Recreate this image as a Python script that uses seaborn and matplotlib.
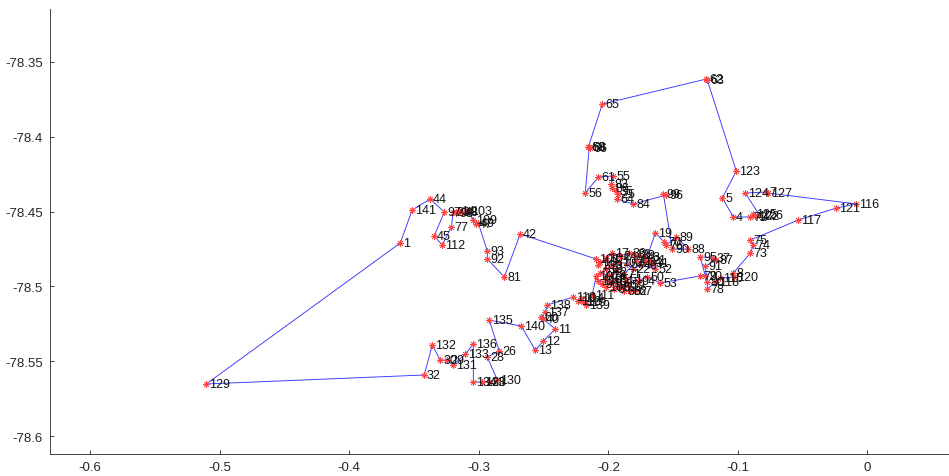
import matplotlib
matplotlib.use("Agg")
import matplotlib.pyplot as plt
import seaborn as sns
import pandas as pd

# Tour order: node id, x and y of each stop
labels = [
    129, 1, 141, 44, 97, 45, 112, 77, 23, 98, 14, 48, 103, 109, 47, 49, 93, 92, 81, 42,
    101, 10, 100, 104, 17, 24, 36, 38, 39, 43, 21, 31, 52, 46, 22, 57, 102, 3, 16, 27,
    18, 2, 71, 41, 34,
    19, 70, 76, 89, 88, 90, 99, 96, 84, 64, 25, 35, 86, 83, 55, 61, 56, 58, 66, 68,
    65, 62, 63, 123, 5, 4, 72, 122, 125, 126, 124, 7, 127, 116, 121, 117, 75, 74, 73,
    8, 120, 115, 118, 78, 80, 91, 87, 37, 95, 20, 79, 53, 50,
    94, 51, 59, 67, 82, 85, 69, 6, 54, 15, 108, 9, 105, 106, 107, 111,
    139, 119, 114, 113, 110, 138, 137, 60, 40, 11, 12, 13, 140, 135, 26, 28, 130, 33,
    128, 134, 136, 133, 131, 29, 30, 132, 32,
]

x_vals = [
    -0.5104, -0.3606, -0.3514, -0.3375, -0.3266, -0.3344, -0.3282, -0.3212, -0.3197, -0.3174,
    -0.3158, -0.3127, -0.3081, -0.3042, -0.3019, -0.3004, -0.2934, -0.2934, -0.2803, -0.2680,
    -0.2093, -0.2062, -0.2077, -0.2015, -0.1969, -0.1907, -0.1838, -0.1799, -0.1761, -0.1722,
    -0.1683, -0.1660, -0.1637, -0.1745, -0.1807, -0.1853, -0.1915, -0.1969, -0.2015, -0.2062,
    -0.1992, -0.1938, -0.1876, -0.1784, -0.1714,
    -0.1637, -0.1568, -0.1552, -0.1475, -0.1382, -0.1506, -0.1575, -0.1552, -0.1807, -0.1931,
    -0.1923, -0.1938, -0.1969, -0.1977, -0.1961, -0.2077, -0.2178, -0.2147, -0.2139, -0.2154,
    -0.2046, -0.1243, -0.1236, -0.1012, -0.1120, -0.1035, -0.0903, -0.0865, -0.0880, -0.0834,
    -0.0942, -0.0780, -0.0764, -0.0085, -0.0239, -0.0533, -0.0903, -0.0880, -0.0903,
    -0.1035, -0.1027, -0.1135, -0.1166, -0.1236, -0.1236, -0.1251, -0.1166, -0.1189, -0.1290,
    -0.1251, -0.1290, -0.1598, -0.1699,
    -0.1768, -0.1861, -0.1846, -0.1792, -0.1830, -0.1876, -0.1907, -0.1954, -0.1938, -0.1985,
    -0.2015, -0.2046, -0.2023, -0.2077, -0.2093, -0.2124,
    -0.2170, -0.2193, -0.2208, -0.2232, -0.2270, -0.2471, -0.2486, -0.2517, -0.2502, -0.2409,
    -0.2502, -0.2564, -0.2672, -0.2919, -0.2842, -0.2934, -0.2857, -0.2919,
    -0.2973, -0.3042, -0.3042, -0.3104, -0.3197, -0.3243, -0.3297, -0.3359, -0.3421,
]

y_vals = [
    -78.5652, -78.4710, -78.4489, -78.4416, -78.4503, -78.4663, -78.4723, -78.4603, -78.4503, -78.4509,
    -78.4496, -78.4503, -78.4496, -78.4556, -78.4583, -78.4576, -78.4763, -78.4817, -78.4937, -78.4650,
    -78.4817, -78.4837, -78.4857, -78.4810, -78.4777, -78.4797, -78.4777, -78.4783, -78.4790, -78.4803,
    -78.4824, -78.4844, -78.4884, -78.4857, -78.4884, -78.4850, -78.4837, -78.4864, -78.4884, -78.4910,
    -78.4924, -78.4904, -78.4917, -78.4830, -78.4837,
    -78.4643, -78.4703, -78.4723, -78.4670, -78.4750, -78.4750, -78.4382, -78.4389, -78.4449, -78.4416,
    -78.4382, -78.4362, -78.4342, -78.4316, -78.4262, -78.4269, -78.4376, -78.4068, -78.4075, -78.4068,
    -78.3781, -78.3614, -78.3620, -78.4229, -78.4409, -78.4536, -78.4536, -78.4529, -78.4516, -78.4523,
    -78.4376, -78.4369, -78.4376, -78.4449, -78.4476, -78.4556, -78.4690, -78.4723, -78.4777,
    -78.4910, -78.4937, -78.4944, -78.4971, -78.5017, -78.4971, -78.4864, -78.4824, -78.4810, -78.4803,
    -78.4930, -78.4930, -78.4977, -78.4937,
    -78.4964, -78.4951, -78.4991, -78.5031, -78.5031, -78.5031, -78.5004, -78.5017, -78.4964, -78.4977,
    -78.5004, -78.4984, -78.4951, -78.4964, -78.4930, -78.5057,
    -78.5124, -78.5104, -78.5078, -78.5098, -78.5071, -78.5124, -78.5171, -78.5205, -78.5218, -78.5285,
    -78.5365, -78.5425, -78.5265, -78.5225, -78.5432, -78.5472, -78.5626, -78.5639,
    -78.5639, -78.5639, -78.5385, -78.5452, -78.5525, -78.5492, -78.5492, -78.5392, -78.5592,
]

x_ticks = [-0.6, -0.5, -0.4, -0.3, -0.2, -0.1, 0.0]
x_tick_labels = ["-0.6", "-0.5", "-0.4", "-0.3", "-0.2", "-0.1", "0"]
y_ticks = [-78.6, -78.55, -78.5, -78.45, -78.4, -78.35]
y_tick_labels = ["-78.6", "-78.55", "-78.5", "-78.45", "-78.4", "-78.35"]

stops = pd.DataFrame({"id": labels, "x": x_vals, "y": y_vals})
# closed tour: return to the first stop
tour = pd.concat([stops, stops.iloc[[0]]], ignore_index=True)

sns.set_style("ticks")
plt.rcParams["font.family"] = ["Liberation Sans", "DejaVu Sans"]

fig = plt.figure(figsize=(9.49, 4.77), dpi=100)
ax = fig.add_axes([50 / 949, 22 / 477, 899 / 949, 445 / 477])

sns.lineplot(data=tour, x="x", y="y", sort=False, estimator=None,
             color="#3535ff", linewidth=0.65, ax=ax, zorder=2)
sns.scatterplot(data=stops, x="x", y="y", marker=(8, 2, 0), s=20,
                color="#ff4444", edgecolor="#ff4444", linewidth=0.6, ax=ax, zorder=3)

for lab, xv, yv in zip(labels, x_vals, y_vals):
    ax.annotate(str(lab), (xv, yv), xytext=(2, 0), textcoords="offset points",
                ha="left", va="center", fontsize=9, color="#111111", zorder=4)

ax.set_xlim(-0.631, 0.063)
ax.set_ylim(-78.612, -78.3146)
ax.set_xticks(x_ticks)
ax.set_xticklabels(x_tick_labels)
ax.set_yticks(y_ticks)
ax.set_yticklabels(y_tick_labels)
ax.set_xlabel("")
ax.set_ylabel("")
ax.tick_params(direction="in", length=3, width=0.6, labelsize=9.5,
               colors="#262626", pad=5)
for side in ("top", "right"):
    ax.spines[side].set_visible(False)
for side in ("left", "bottom"):
    ax.spines[side].set_linewidth(0.6)
    ax.spines[side].set_color("#262626")

fig.savefig("out.png", dpi=100)
